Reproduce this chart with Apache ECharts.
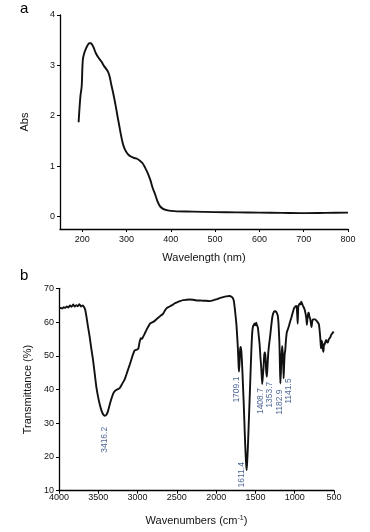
<!DOCTYPE html>
<html>
<head>
<meta charset="utf-8">
<script src="https://cdn.jsdelivr.net/npm/echarts@6/dist/echarts.min.js"></script>
<style>
html,body{margin:0;padding:0;background:#fff;}
#c{width:370px;height:532px;}
</style>
</head>
<body>
<div id="c"></div>
<script>
// ---- Panel a: UV-Vis ----
const uvWave = [192,196,199,201.5,205,209,213,216,219,222,226,231,237,243,250,258,262,265,270,276,280,284,288,291.5,295,299,304,310,318,325,331,336,342,348,354,359,365,370,375,381,387,393,400,413,450,500,550,600,650,700,750,800];
const uvAbs  = [1.87,2.38,2.59,3.11,3.25,3.34,3.41,3.44,3.44,3.42,3.35,3.24,3.15,3.08,2.98,2.88,2.78,2.65,2.45,2.18,1.98,1.79,1.60,1.46,1.36,1.29,1.23,1.19,1.16,1.14,1.10,1.06,0.97,0.86,0.72,0.57,0.43,0.30,0.21,0.16,0.135,0.12,0.11,0.10,0.095,0.085,0.08,0.075,0.07,0.065,0.07,0.075];
const uvXTicks = [200,300,400,500,600,700,800];
const uvYTicks = [0,1,2,3,4];

// ---- Panel b: FT-IR ----
const irWave = [4000,3980,3960,3940,3920,3900,3880,3860,3840,3820,3800,3780,3760,3740,3720,3700,3680,3665,3650,3630,3610,3590,3567,3545,3525,3500,3482,3460,3440,3416,3395,3376,3355,3334,3310,3291,3260,3228,3200,3164,3130,3101,3075,3058,3037,3010,2990,2975,2960,2945,2930,2910,2888,2860,2840,2820,2790,2760,2730,2700,2676,2650,2620,2592,2560,2530,2500,2460,2420,2380,2340,2295,2250,2200,2160,2125,2080,2040,2000,1955,1910,1871,1830,1800,1785,1773,1760,1743,1730,1722,1714,1709,1702,1695,1688,1680,1672,1665,1658,1650,1640,1630,1620,1612,1605,1595,1585,1574,1562,1552,1542,1532,1520,1511,1505,1498,1490,1480,1469,1458,1447,1436,1426,1414,1405,1397,1388,1380,1371,1363,1354,1346,1337,1325,1312,1298,1285,1270,1255,1244,1230,1215,1205,1195,1188,1183,1176,1168,1160,1153,1147,1141,1135,1128,1121,1112,1100,1085,1074,1060,1044,1025,1010,1000,985,975,968,962,955,947,935,925,917,905,895,887,875,862,852,845,838,828,820,812,803,795,786,778,769,755,740,727,710,693,685,676,668,664,657,651,642,634,627,621,612,600,590,579,568,557,546,536,520,505];
const irT    = [64.1,64.2,64.0,64.4,64.2,64.6,64.3,64.9,64.5,65.2,64.6,65.0,64.7,65.3,64.6,64.9,64.4,63.5,61.5,58.5,55.7,52.3,48.8,44.6,40.8,37.5,35.6,33.8,32.7,32.2,32.6,33.6,35.5,37.2,38.8,39.5,40.0,40.4,41.5,43.0,45.3,47.3,49.2,50.4,51.6,51.8,52.1,54.0,55.2,55.0,55.6,56.5,57.6,58.8,59.6,59.8,60.2,60.8,61.4,62.0,62.4,63.5,64.3,64.6,65.0,65.5,65.8,66.2,66.5,66.6,66.7,66.6,66.4,66.4,66.3,66.3,66.2,66.4,66.7,67.1,67.4,67.6,67.7,67.4,67.0,66.0,63.5,59.6,55.0,51.5,47.0,45.3,48.0,51.8,52.6,51.5,48.5,45.0,41.0,36.5,30.0,23.5,18.5,16.1,18.5,23.5,30.0,37.0,45.0,51.5,56.5,58.6,59.2,59.6,59.0,59.4,59.8,59.0,58.4,56.0,53.5,49.5,46.5,41.6,44.0,46.5,50.2,51.0,49.5,45.5,43.8,47.0,50.7,53.5,56.0,59.0,61.5,62.8,63.2,63.2,62.8,61.8,59.0,54.0,47.0,41.8,45.0,50.0,52.9,51.0,48.0,43.3,47.0,50.5,51.5,54.5,57.0,58.0,58.8,60.0,61.2,62.8,64.0,64.4,64.8,64.6,62.0,59.5,64.5,65.1,65.5,65.2,66.0,65.4,64.8,64.8,63.8,62.5,61.0,59.2,61.0,62.8,62.6,61.5,61.0,59.8,58.5,60.0,60.8,60.8,60.8,60.5,60.0,59.4,58.0,55.7,53.0,52.2,54.5,54.0,52.0,51.2,53.5,53.2,54.0,54.7,54.0,53.9,54.8,55.2,55.5,56.2,56.7,57.2];
const peakWave  = [3416.2,1709.1,1611.4,1408.7,1353.7,1182.9,1141.5];
const peakT     = [32.2,45.3,16.1,41.6,43.8,41.8,43.3];
const peakLabel = ['3416.2','1709.1','1611.4','1408.7','1353.7','1182.9','1141.5'];
const irXTicks = [500,1000,1500,2000,2500,3000,3500,4000];
const irYTicks = [10,20,30,40,50,60,70];

// label placement (screen dx, top dy) relative to peak
const labelShift = [[0,11],[-2.5,5],[-5,-8],[-2,4],[2.7,5],[-1,6],[4.7,0]];

const FONT = 'Liberation Sans, Arial, sans-serif';
const chart = echarts.init(document.getElementById('c'), null, {renderer:'canvas'});

const axisLineStyle = {show:true, onZero:false, lineStyle:{color:'#000', width:1.3}};
const axisTickStyle = {show:true, inside:false, length:3, lineStyle:{color:'#000', width:1}};
const plain = v => String(v);

const option = {
  animation:false,
  backgroundColor:'#fff',
  textStyle:{fontFamily:FONT},
  graphic:[
    {type:'text', left:20, top:1, style:{text:'a', font:'15px '+FONT, fill:'#000'}},
    {type:'text', left:20, top:268, style:{text:'b', font:'15px '+FONT, fill:'#000'}}
  ],
  grid:[
    {left:60, right:22, top:15, height:214, containLabel:false},
    {left:59, right:36, top:288.3, height:202.4, containLabel:false}
  ],
  xAxis:[
    {gridIndex:0, type:'value', min:150, max:800,
     name:'Wavelength (nm)', nameLocation:'middle', nameGap:23,
     nameTextStyle:{fontSize:11, color:'#111', fontFamily:FONT},
     axisLine:axisLineStyle,
     axisTick:Object.assign({}, axisTickStyle, {customValues:uvXTicks}),
     axisLabel:{customValues:uvXTicks, formatter:plain, fontSize:9, color:'#111', margin:6, fontFamily:FONT},
     splitLine:{show:false}},
    {gridIndex:1, type:'value', min:500, max:4000, inverse:true, interval:500,
     name:'Wavenumbers (cm{sup|-1})', nameLocation:'middle', nameGap:24,
     nameTextStyle:{fontSize:11, color:'#111', fontFamily:FONT,
       rich:{sup:{fontSize:7, color:'#111', fontFamily:FONT, padding:[0,0,6,0]}}},
     axisLine:axisLineStyle,
     axisTick:axisTickStyle,
     axisLabel:{customValues:irXTicks, formatter:plain, fontSize:9, color:'#111', margin:2, fontFamily:FONT},
     splitLine:{show:false}},
  ],
  yAxis:[
    {gridIndex:0, type:'value', min:-0.25, max:4,
     name:'Abs', nameLocation:'middle', nameGap:30, nameRotate:90,
     nameTextStyle:{fontSize:11, color:'#111', fontFamily:FONT},
     axisLine:axisLineStyle,
     axisTick:Object.assign({}, axisTickStyle, {customValues:uvYTicks}),
     axisLabel:{customValues:uvYTicks, formatter:plain, fontSize:9, color:'#111', margin:5, fontFamily:FONT},
     splitLine:{show:false}},
    {gridIndex:1, type:'value', min:10, max:70, interval:10,
     name:'Transmittance (%)', nameLocation:'middle', nameGap:26, nameRotate:90,
     nameTextStyle:{fontSize:11, color:'#111', fontFamily:FONT},
     axisLine:axisLineStyle,
     axisTick:axisTickStyle,
     axisLabel:{customValues:irYTicks, formatter:plain, fontSize:9, color:'#111', margin:5, fontFamily:FONT},
     splitLine:{show:false}}
  ],
  series:[
    {type:'line', xAxisIndex:0, yAxisIndex:0, showSymbol:false, smooth:0.35,
     lineStyle:{color:'#111', width:1.9},
     data:uvWave.map((w,i)=>[w,uvAbs[i]])},
    {type:'line', xAxisIndex:1, yAxisIndex:1, showSymbol:false, smooth:0.15,
     lineStyle:{color:'#111', width:1.9},
     data:irWave.map((w,i)=>[w,irT[i]])},
    {type:'scatter', xAxisIndex:1, yAxisIndex:1, symbolSize:1, itemStyle:{color:'rgba(0,0,0,0)'},
     silent:true,
     data:peakWave.map((w,i)=>({
       value:[w,peakT[i]],
       label:{show:true, formatter:peakLabel[i], position:'inside', rotate:90,
              align:'right', verticalAlign:'middle',
              offset:[-labelShift[i][1], labelShift[i][0]],
              fontSize:8.5, color:'#1f3f7a', fontFamily:FONT}
     }))}
  ]
};
chart.setOption(option);
</script>
</body>
</html>
